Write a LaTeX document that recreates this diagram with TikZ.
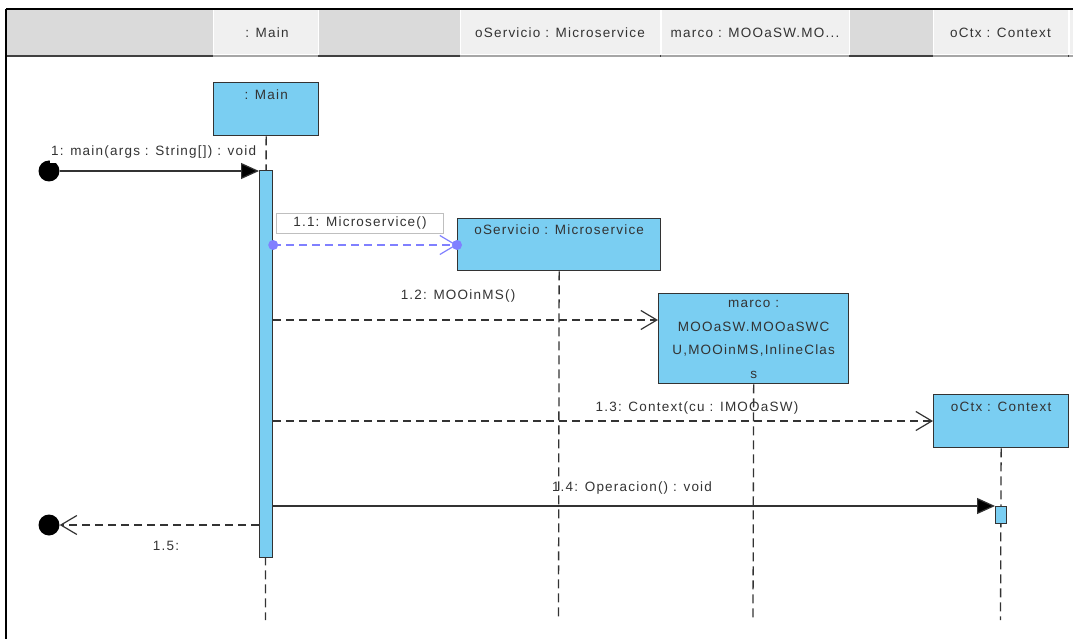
\documentclass[tikz,border=0pt]{standalone}
\usepackage{fontspec}
\setmainfont{Liberation Sans}[LetterSpace=9]
\usetikzlibrary{arrows.meta}
\definecolor{lifefill}{RGB}{122,206,242}
\definecolor{ink}{RGB}{51,51,51}
\definecolor{hdrgray}{RGB}{218,218,218}
\definecolor{hdrlight}{RGB}{240,240,240}
\definecolor{createblue}{RGB}{128,128,255}
\begin{document}
\begin{tikzpicture}[x=1pt,y=-1pt,
  font=\fontsize{13.5}{16}\selectfont, text=ink,
  head/.style={draw=ink, fill=lifefill, line width=1.3pt, inner sep=0pt, anchor=north west},
  actbar/.style={draw=ink, fill=lifefill, line width=1.2pt, inner sep=0pt, anchor=north west},
  life/.style={draw=ink, line width=1.3pt, dash pattern=on 9pt off 5pt},
  msg/.style={draw=ink, line width=1.2pt},
  reply/.style={draw=ink, line width=1.2pt, dash pattern=on 8pt off 5pt},
  create/.style={draw=createblue, line width=1.2pt, dash pattern=on 8pt off 5pt},
  filled/.style={-{Triangle[length=18pt,width=16pt,fill=black]}},
  openhead/.style={-{Straight Barb[length=16pt,width=19pt,line width=1.2pt]}},
  cell/.style={fill=hdrlight, draw=white, line width=1pt},
  celltext/.style={anchor=center, inner sep=0pt},
  lbl/.style={inner sep=1pt}
]
\useasboundingbox (0,0) rectangle (1073,639);

% frame header
\fill[hdrgray] (6,9) rectangle (1073,56);
\filldraw[cell] (213,10) rectangle (318,55);
\filldraw[cell] (460,10) rectangle (660,55);
\filldraw[cell] (661,10) rectangle (849,55);
\filldraw[cell] (933,10) rectangle (1068,55);
\filldraw[cell] (1069,10) rectangle (1075,55);
\draw[black!75, line width=1.2pt] (6,56) -- (1073,56);
\foreach \a/\b in {213/318, 460/660, 661/849, 933/1068, 1069/1073}
  \draw[black!35, line width=1.2pt] (\a,56) -- (\b,56);
\draw[black, line width=1.5pt] (6,9) -- (1073,9);
\draw[black, line width=1.5pt] (6,9) -- (6,639);

\node[celltext] (hMain) at (267,33) {: Main};
\node[celltext] (hServ) at (560,33) {oServicio : Microservice};
\node[celltext] (hMarco) at (755,33) {marco : MOOaSW.MO...};
\node[celltext] (hCtx) at (1000.5,33) {oCtx : Context};

% lifeline heads
\node[head, minimum width=105pt, minimum height=53pt] (mainH) at (213,82) {};
\node[head, minimum width=203pt, minimum height=52pt] (servH) at (457,218) {};
\node[head, minimum width=190pt, minimum height=90pt] (marcoH) at (658,293) {};
\node[head, minimum width=135pt, minimum height=53pt] (ctxH) at (933,394) {};

\node[lbl] (mainL) at ([yshift=-13pt]mainH.north) {: Main};
\node[lbl] (servL) at ([yshift=-12pt]servH.north) {oServicio : Microservice};
\node[lbl, align=center, font=\fontsize{13.5}{23.5}\selectfont] (marcoL) at ([yshift=-1pt]marcoH.center)
  {marco :\\MOOaSW.MOOaSWC\\U,MOOinMS,InlineClas\\s};
\node[lbl] (ctxL) at ([yshift=-13pt]ctxH.north) {oCtx : Context};

% lifeline ends
\coordinate (mainEnd) at (265.5,620);
\coordinate (servEnd) at (558.5,620);
\coordinate (marcoEnd) at (753,620);
\coordinate (ctxEnd) at (1000.5,620);

\draw[life] (mainH.south) -- (mainEnd);
\draw[life] (servH.south) -- (servEnd);
\draw[life] (marcoH.south) -- (marcoEnd);
\draw[life] (ctxH.south) -- (ctxEnd);

% activations
\node[actbar, minimum width=13pt, minimum height=387pt] (mainA) at (259,170) {};
\node[actbar, minimum width=11pt, minimum height=17pt] (ctxA) at (995,506) {};

% 1: found message
\node[circle, fill=black, minimum size=21pt, inner sep=0pt] (start) at (49,171) {};
\node[fill=white, inner xsep=1pt, inner ysep=5pt, anchor=west] (m1) at (50,152) {1: main(args : String[]) : void};
\draw[msg, filled] (start) -- (start -| mainA.west);

% 1.1 create
\coordinate (c1a) at (mainA.east |- 0,245);
\coordinate (c1b) at (servH.west |- 0,245);
\draw[create, openhead] (c1a) -- (c1b);
\fill[createblue] (c1a) circle (5pt);
\fill[createblue] (c1b) circle (5pt);
\node[draw=black!25, fill=white, line width=1pt, minimum width=167pt, minimum height=20pt,
  inner sep=0pt, anchor=north west] (m11) at (276,213) {1.1: Microservice()};

% 1.2
\draw[reply, openhead] (mainA.east |- 0,320) -- (marcoH.west |- 0,320);
\node[lbl] (m12) at (458,296) {1.2: MOOinMS()};

% 1.3
\draw[reply, openhead] (mainA.east |- 0,421) -- (ctxH.west |- 0,421);
\node[lbl] (m13) at (697,408) {1.3: Context(cu : IMOOaSW)};

% 1.4
\draw[msg, filled] (mainA.east |- ctxA.north west) -- (ctxA.north west);
\node[lbl] (m14) at (632,488) {1.4: Operacion() : void};

% 1.5 return
\node[circle, fill=black, minimum size=21pt, inner sep=0pt] (stop) at (49,525) {};
\draw[reply, openhead] (mainA.west |- stop) -- (stop);
\node[lbl] (m15) at (166,546) {1.5:};
\end{tikzpicture}
\end{document}
